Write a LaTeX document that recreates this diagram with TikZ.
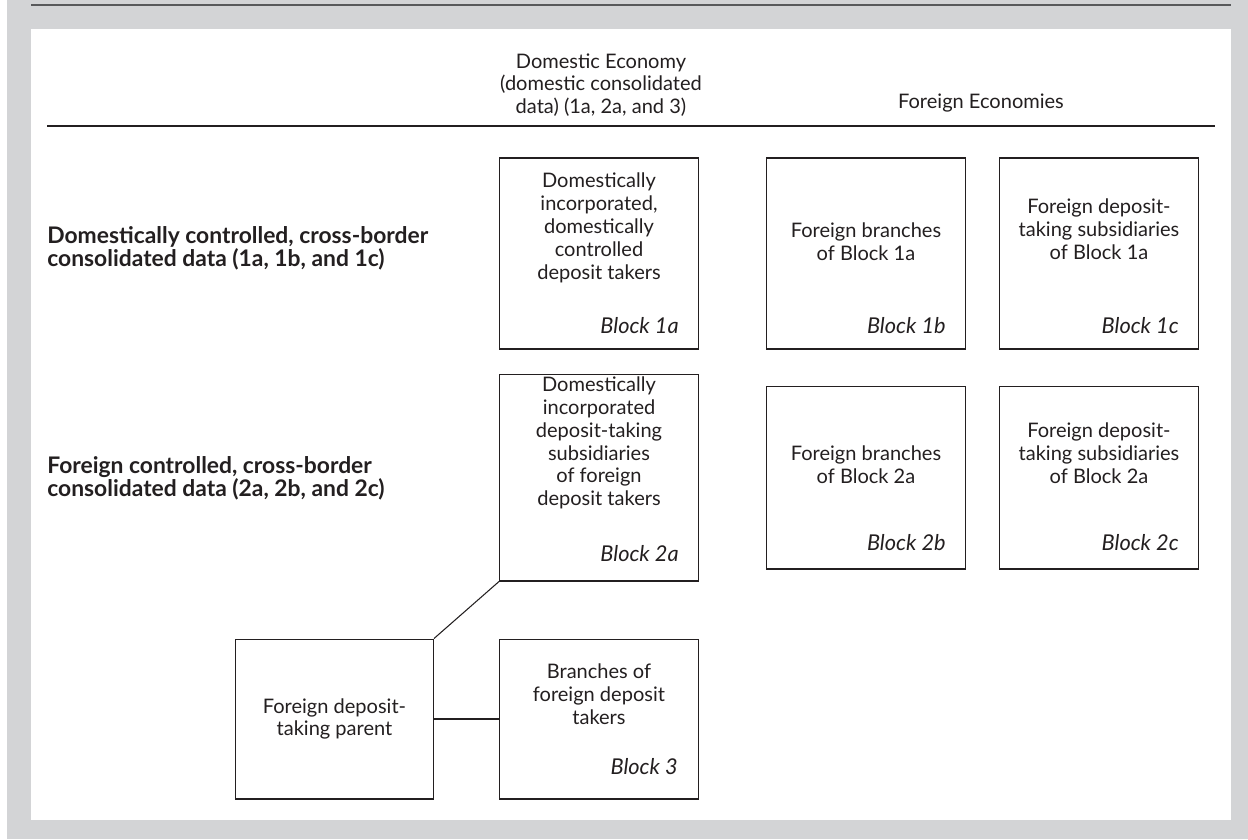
\documentclass[tikz,border=0pt]{standalone}
\usepackage{fontspec}
\setmainfont{Lato}
\usetikzlibrary{positioning}
\definecolor{panelgray}{HTML}{D3D4D6}
\definecolor{ruledark}{HTML}{58595B}
\definecolor{inkdark}{HTML}{231F20}

\begin{document}
\begin{tikzpicture}[
      x=0.02cm, y=-0.02cm,
      every node/.style={font=\fontsize{11.4}{13}\selectfont, text=inkdark},
      blockbox/.style={draw=inkdark, line width=0.6pt, minimum width=3.98cm,
        inner sep=0pt},
      boxtext/.style={align=center, inner sep=0pt},
      blocktag/.style={font=\fontsize{12.4}{13}\selectfont\itshape,
        anchor=east, inner sep=0pt},
      rowlabel/.style={font=\fontsize{13}{13.2}\selectfont\bfseries,
        align=left, anchor=west, inner sep=0pt},
      link/.style={draw=inkdark, line width=0.6pt}
    ]
      % panel and rules
      \fill[white] (0,0) rectangle (1248,839);
      \fill[panelgray] (7,0) rectangle (1248,839);
      \fill[white] (31,29) rectangle (1231,820);
      \draw[ruledark, line width=0.8pt] (31,5) -- (1231,5);
      \draw[inkdark, line width=0.75pt] (47,126) -- (1215,126);
      \useasboundingbox (0,0) rectangle (1248,839);

      % column heads
      \node[boxtext] (hdom) at (601,85)
        {Domestic Economy\\(domestic consolidated\\data) (1a, 2a, and 3)};
      \node[boxtext] (hfor) at (981,103) {Foreign Economies};

      % row heads
      \node[rowlabel] (row1) at (47,248)
        {Domestically controlled, cross-border\\consolidated data (1a, 1b, and 1c)};
      \node[rowlabel] (row2) at (47,478)
        {Foreign controlled, cross-border\\consolidated data (2a, 2b, and 2c)};

      % first row
      \node[blockbox, minimum height=3.82cm] (b1a) at (599,253.5) {};
      \node[blockbox, minimum height=3.82cm, right=1.34cm of b1a] (b1b) {};
      \node[blockbox, minimum height=3.82cm, right=0.66cm of b1b] (b1c) {};
      \node[boxtext] (t1a) at ([yshift=0.51cm]b1a.center)
        {Domestically\\incorporated,\\domestically\\controlled\\deposit takers};
      \node[boxtext] (t1b) at ([yshift=0.24cm]b1b.center)
        {Foreign branches\\of Block 1a};
      \node[boxtext] (t1c) at ([yshift=0.49cm]b1c.center)
        {Foreign deposit-\\taking subsidiaries\\of Block 1a};
      \node[blocktag] (k1a) at ([xshift=-0.4cm, yshift=0.48cm]b1a.south east) {Block 1a};
      \node[blocktag] (k1b) at ([xshift=-0.4cm, yshift=0.48cm]b1b.south east) {Block 1b};
      \node[blocktag] (k1c) at ([xshift=-0.4cm, yshift=0.48cm]b1c.south east) {Block 1c};

      % second row
      \node[blockbox, minimum height=4.14cm, below=0.48cm of b1a] (b2a) {};
      \node[blockbox, minimum height=3.66cm, right=1.34cm of b2a] (b2b) {};
      \node[blockbox, minimum height=3.66cm, right=0.66cm of b2b] (b2c) {};
      \node[boxtext] (t2a) at ([yshift=0.69cm]b2a.center)
        {Domestically\\incorporated\\deposit-taking\\subsidiaries\\of foreign\\deposit takers};
      \node[boxtext] (t2b) at ([yshift=0.26cm]b2b.center)
        {Foreign branches\\of Block 2a};
      \node[boxtext] (t2c) at ([yshift=0.49cm]b2c.center)
        {Foreign deposit-\\taking subsidiaries\\of Block 2a};
      \node[blocktag] (k2a) at ([xshift=-0.4cm, yshift=0.56cm]b2a.south east) {Block 2a};
      \node[blocktag] (k2b) at ([xshift=-0.4cm, yshift=0.54cm]b2b.south east) {Block 2b};
      \node[blocktag] (k2c) at ([xshift=-0.4cm, yshift=0.54cm]b2c.south east) {Block 2c};

      % third row
      \node[blockbox, minimum height=3.2cm, below=1.14cm of b2a] (b3) {};
      \node[blockbox, minimum width=3.96cm, minimum height=3.2cm,
        left=1.3cm of b3] (parent) {};
      \node[boxtext] (t3) at ([yshift=0.5cm]b3.center)
        {Branches of\\foreign deposit\\takers};
      \node[boxtext] (tparent) at (parent.center)
        {Foreign deposit-\\taking parent};
      \node[blocktag] (k3) at ([xshift=-0.42cm, yshift=0.66cm]b3.south east) {Block 3};

      \draw[link] (parent) -- (b3);
      \draw[link] (parent.north east) -- (b2a.south west);
    \end{tikzpicture}
\end{document}
